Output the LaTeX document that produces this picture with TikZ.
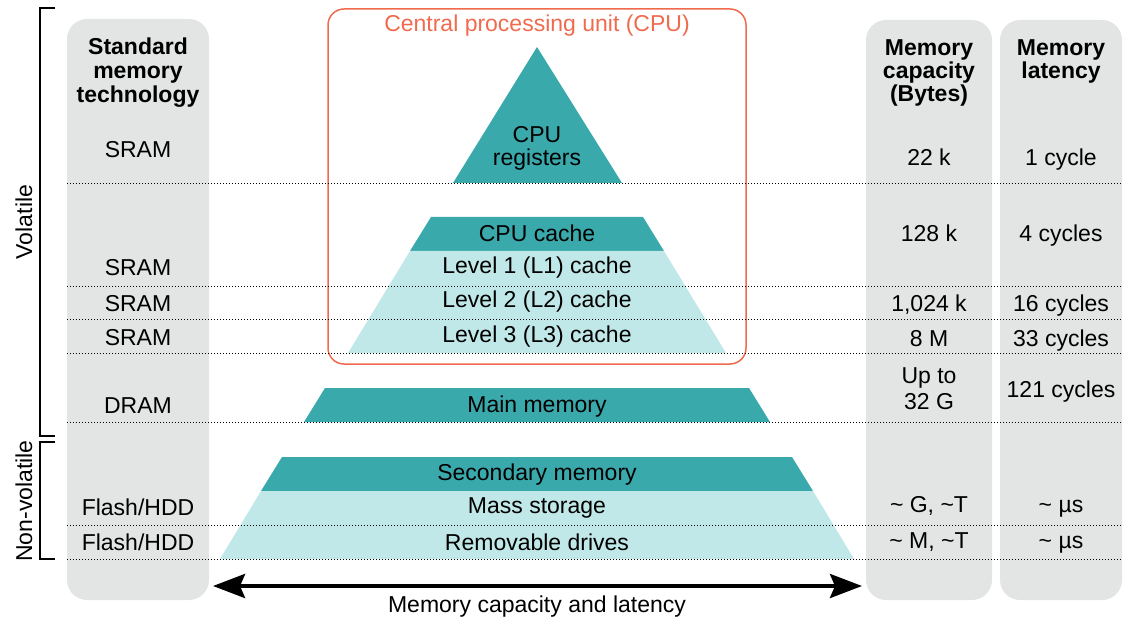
\documentclass[tikz,border=0pt]{standalone}
\usepackage{fontspec}
\setmainfont{Liberation Sans}
\usetikzlibrary{arrows.meta}

\definecolor{pyrDark}{HTML}{3AA9AC}
\definecolor{pyrLight}{HTML}{C1E8E8}
\definecolor{colGray}{HTML}{E3E4E4}
\definecolor{cpuOrange}{HTML}{F06A4E}

\tikzset{
  lbl/.style={font=\fontsize{23}{24}\selectfont, inner sep=0pt, anchor=base},
  hdr/.style={lbl, font=\fontsize{23}{24}\selectfont\bfseries},
  colbox/.style={fill=colGray, rounded corners=20pt},
  cpubox/.style={draw=cpuOrange, line width=1.5pt, rounded corners=16pt},
  darkband/.style={fill=pyrDark},
  lightband/.style={fill=pyrLight},
  rowrule/.style={line width=0.9pt, dash pattern=on 1.2pt off 1.8pt},
  bracketline/.style={line width=1.3pt},
  bigarrow/.style={line width=4pt,
    {Stealth[length=32pt,width=24pt,inset=5pt]}-{Stealth[length=32pt,width=24pt,inset=5pt]}}
}

\begin{document}
\begin{tikzpicture}[x=1pt,y=-1pt]
\useasboundingbox (0,0) rectangle (1123,617);

% grey table columns
\fill[colbox] (67,19) rectangle (209,600);
\fill[colbox] (866,20) rectangle (992,600);
\fill[colbox] (1000,20) rectangle (1122,600);

% CPU frame
\draw[cpubox] (328,9) rectangle (746,364);
\node[lbl, text=cpuOrange] (cpuT) at (537,32) {Central processing unit (CPU)};

% pyramid: registers
\fill[darkband] (537,47) -- (622,183) -- (453,183) -- cycle;
% pyramid: cache levels
\fill[darkband] (431,217) -- (643,217) -- (664,251) -- (410,251) -- cycle;
\fill[lightband] (410,251) -- (664,251) -- (726,353) -- (348,353) -- cycle;
% pyramid: main memory
\fill[darkband] (325,388) -- (749,388) -- (770,422) -- (304,422) -- cycle;
% pyramid: secondary memory
\fill[darkband] (282,457) -- (792,457) -- (813,491) -- (261,491) -- cycle;
\fill[lightband] (261,491) -- (813,491) -- (854,559) -- (220,559) -- cycle;

% dotted row separators
\foreach \ry in {183,286,319,353,422,525,559}
  \draw[rowrule] (67,\ry) -- (1123,\ry);

% volatile / non-volatile brackets
\draw[bracketline] (55,8) -- (40,8) -- (40,436) -- (55,436);
\draw[bracketline] (55,442) -- (40,442) -- (40,559) -- (55,559);
\node[lbl, rotate=90] (vol) at (32,222) {Volatile};
\node[lbl, rotate=90] (nvol) at (32,501) {Non-volatile};

% column headers
\node[hdr] (hA1) at (138,55) {Standard};
\node[hdr] (hA2) at (138,79) {memory};
\node[hdr] (hA3) at (138,103) {technology};
\node[hdr] (hB1) at (929,56) {Memory};
\node[hdr] (hB2) at (929,79) {capacity};
\node[hdr] (hB3) at (929,102) {(Bytes)};
\node[hdr] (hC1) at (1061,56) {Memory};
\node[hdr] (hC2) at (1061,79) {latency};

% technology column
\node[lbl] (t1) at (138,158) {SRAM};
\node[lbl] (t2) at (138,276) {SRAM};
\node[lbl] (t3) at (138,311) {SRAM};
\node[lbl] (t4) at (138,345) {SRAM};
\node[lbl] (t5) at (138,413) {DRAM};
\node[lbl] (t6) at (138,515) {Flash/HDD};
\node[lbl] (t7) at (138,550) {Flash/HDD};

% pyramid labels
\node[lbl] (p1a) at (537,143) {CPU};
\node[lbl] (p1b) at (537,166) {registers};
\node[lbl] (p2) at (537,242) {CPU cache};
\node[lbl] (p3) at (537,274) {Level 1 (L1) cache};
\node[lbl] (p4) at (537,308) {Level 2 (L2) cache};
\node[lbl] (p5) at (537,342) {Level 3 (L3) cache};
\node[lbl] (p6) at (537,412) {Main memory};
\node[lbl] (p7) at (537,480) {Secondary memory};
\node[lbl] (p8) at (537,513) {Mass storage};
\node[lbl] (p9) at (537,550) {Removable drives};

% capacity column
\node[lbl] (c1) at (929,166) {22 k};
\node[lbl] (c2) at (929,242) {128 k};
\node[lbl] (c3) at (929,311) {1,024 k};
\node[lbl] (c4) at (929,346) {8 M};
\node[lbl] (c5a) at (929,383) {Up to};
\node[lbl] (c5b) at (929,409) {32 G};
\node[lbl] (c6) at (929,512) {\textasciitilde{} G, \textasciitilde T};
\node[lbl] (c7) at (929,548) {\textasciitilde{} M, \textasciitilde T};

% latency column
\node[lbl] (l1) at (1061,166) {1 cycle};
\node[lbl] (l2) at (1061,242) {4 cycles};
\node[lbl] (l3) at (1061,311) {16 cycles};
\node[lbl] (l4) at (1061,346) {33 cycles};
\node[lbl] (l5) at (1061,397) {121 cycles};
\node[lbl] (l6) at (1061,512) {\textasciitilde{} µs};
\node[lbl] (l7) at (1061,548) {\textasciitilde{} µs};

% capacity / latency axis
\coordinate (axL) at (213,586);
\coordinate (axR) at (862,586);
\draw[bigarrow] (axL) -- (axR);
\node[lbl] (axT) at (537,612) {Memory capacity and latency};
\end{tikzpicture}
\end{document}
